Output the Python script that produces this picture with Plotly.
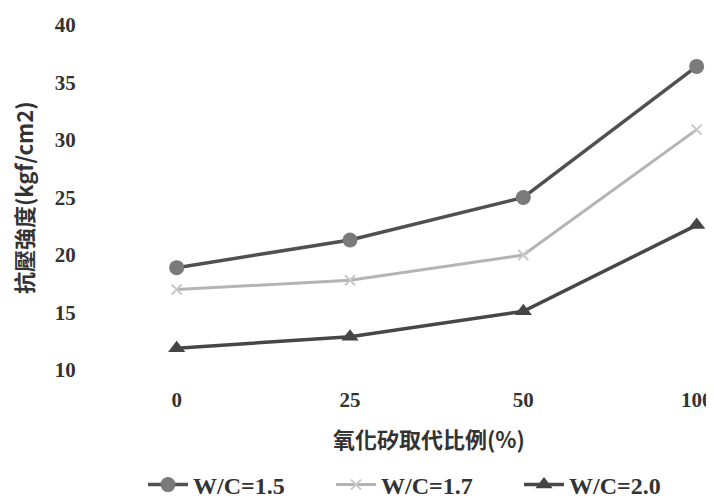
import plotly.graph_objects as go

categories = ["0", "25", "50", "100"]
wc15 = [18.9, 21.3, 25.0, 36.4]
wc17 = [17.0, 17.8, 20.0, 30.9]
wc20 = [11.9, 12.9, 15.1, 22.6]
series_names = ["W/C=1.5", "W/C=1.7", "W/C=2.0"]
y_ticks = [10, 15, 20, 25, 30, 35, 40]

fig = go.Figure()
fig.add_trace(go.Scatter(
    x=categories, y=wc15, name=series_names[0], mode="lines+markers",
    line=dict(color="#505050", width=3.5),
    marker=dict(symbol="circle", size=15, color="#7a7a7a", line=dict(color="#7a7a7a", width=0)),
    cliponaxis=False))
fig.add_trace(go.Scatter(
    x=categories, y=wc17, name=series_names[1], mode="lines+markers",
    line=dict(color="#b4b4b4", width=3),
    marker=dict(symbol="x-thin", size=10, color="#c8c8c8", line=dict(color="#c8c8c8", width=2)),
    cliponaxis=False))
fig.add_trace(go.Scatter(
    x=categories, y=wc20, name=series_names[2], mode="lines+markers",
    line=dict(color="#474747", width=3.5),
    marker=dict(symbol="triangle-up", size=15, color="#454545"),
    cliponaxis=False))

serif = "Liberation Serif"
W, H = 706, 490  # page body has an 8px margin
L, T = 82, 17
B = H - T - 345
fig.update_layout(
    width=W, height=H,
    margin=dict(l=L, r=0, t=T, b=B, autoexpand=False),
    paper_bgcolor="white", plot_bgcolor="white",
    showlegend=True,
    legend=dict(orientation="h", xref="container", yref="container",
                x=135 / W, xanchor="left", y=1 - 477 / H, yanchor="middle",
                entrywidth=133, entrywidthmode="pixels",
                font=dict(family=serif, size=24, color="#333", weight="bold"), itemwidth=40,
                bgcolor="rgba(0,0,0,0)"),
    xaxis=dict(type="category", categoryorder="array", categoryarray=categories,
               range=[-0.5, 3.1], showgrid=False, zeroline=False, showline=False,
               automargin=False, ticklabeloverflow="allow",
               ticks="outside", ticklen=11, tickcolor="white",
               tickfont=dict(family=serif, size=21, color="#333", weight="bold")),
    yaxis=dict(range=[10, 40], tickvals=y_ticks, showgrid=False, zeroline=False,
               automargin=False,
               showline=False, ticks="outside", ticklen=9, tickcolor="white",
               tickfont=dict(family=serif, size=21, color="#333", weight="bold")),
    annotations=[
        dict(text="<b>抗壓強度(kgf/cm2)</b>", xref="paper", yref="paper",
             x=-0.108, y=0.50, xanchor="center", yanchor="middle", textangle=-90,
             showarrow=False, font=dict(family="Noto Sans CJK TC, Liberation Serif", size=22, color="#333")),
        dict(text="<b>氧化矽取代比例(%)</b>", xref="paper", yref="paper",
             x=(421 - L) / 624, y=-(438 - 370) / 345, xanchor="center", yanchor="middle",
             showarrow=False, font=dict(family="Noto Sans CJK TC", size=22, color="#333")),
    ],
)
fig.write_html("out.html")
